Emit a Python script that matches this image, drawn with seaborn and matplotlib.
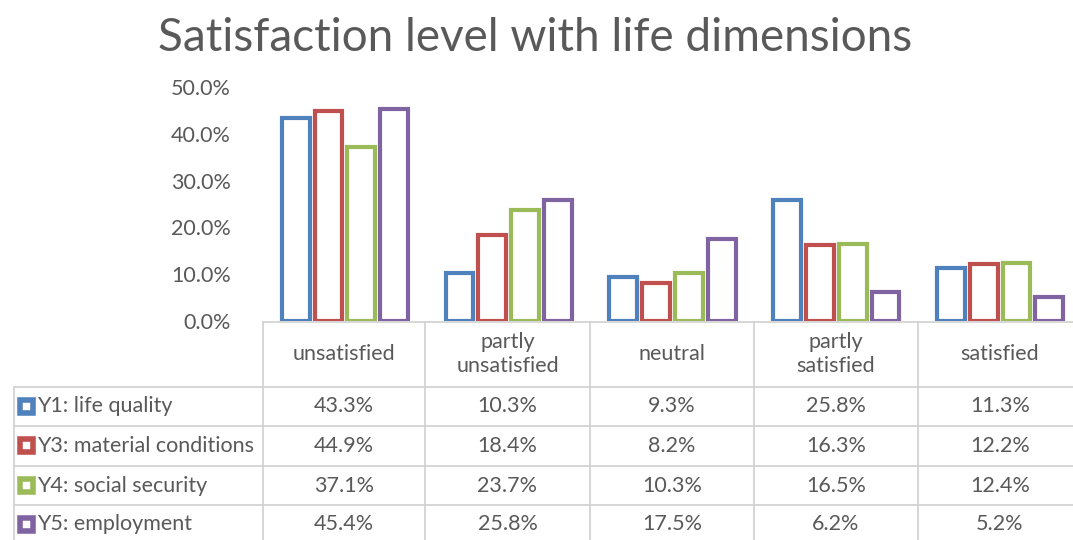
import pandas as pd
import seaborn as sns
import matplotlib.pyplot as plt
from matplotlib.lines import Line2D
from matplotlib.patches import Rectangle
from matplotlib.ticker import PercentFormatter

categories = ['unsatisfied', 'partly\nunsatisfied', 'neutral', 'partly\nsatisfied', 'satisfied']
series = ['Y1: life quality', 'Y3: material conditions', 'Y4: social security', 'Y5: employment']
life_quality = [43.3, 10.3, 9.3, 25.8, 11.3]
material_conditions = [44.9, 18.4, 8.2, 16.3, 12.2]
social_security = [37.1, 23.7, 10.3, 16.5, 12.4]
employment = [45.4, 25.8, 17.5, 6.2, 5.2]
colors = ['#4F81BD', '#C0504D', '#9BBB59', '#8064A2']

values = [life_quality, material_conditions, social_security, employment]
rows = []
for name, vals in zip(series, values):
    for cat, v in zip(categories, vals):
        rows.append({'category': cat, 'series': name, 'value': v})
df = pd.DataFrame(rows)

sns.set_style('white')
plt.rcParams['font.family'] = ['Lato', 'DejaVu Sans']
text_color = '#595959'
grid_color = '#D0D0D0'
fs = 15.5

W, H = 1073, 540
fig = plt.figure(figsize=(W / 100, H / 100), dpi=100)

# plot area in pixels: x 263..1082, y 87 (50%)..321 (0%)
ax = fig.add_axes([263 / W, 1 - 321 / H, (1082 - 263) / W, (321 - 87) / H])
sns.barplot(data=df, x='category', y='value', hue='series', palette=colors,
            fill=False, gap=0.15, linewidth=3.0, ax=ax, legend=False)
ax.set_ylim(0, 50)
ax.set_xlim(-0.5, 4.5)
ax.set_yticks([0, 10, 20, 30, 40, 50])
ax.yaxis.set_major_formatter(PercentFormatter(decimals=1))
ax.tick_params(axis='y', labelsize=fs, labelcolor=text_color, length=0, pad=23)
ax.set_xticks([])
ax.set_xlabel('')
ax.set_ylabel('')
for s in ax.spines.values():
    s.set_visible(False)

fig.text(535 / W, 1 - 38 / H, 'Satisfaction level with life dimensions',
         ha='center', va='center', fontsize=33, color=text_color)


def px(x, y):
    return x / W, 1 - y / H


def hline(x0, x1, y):
    fig.add_artist(Line2D([x0 / W, x1 / W], [1 - y / H, 1 - y / H],
                          color=grid_color, lw=1.2))


def vline(x, y0, y1):
    fig.add_artist(Line2D([x / W, x / W], [1 - y0 / H, 1 - y1 / H],
                          color=grid_color, lw=1.2))


col_edges = [263, 425, 590, 754, 918, 1082]
row_edges = [387, 426, 466, 505, 544]

hline(263, 1082, 322)
for y in row_edges:
    hline(14, 1082, y)
for x in col_edges:
    vline(x, 322, 544)
vline(14, 387, 544)

for i, cat in enumerate(categories):
    cx = (col_edges[i] + col_edges[i + 1]) / 2
    fig.text(*px(cx, 354), cat, ha='center', va='center', fontsize=fs,
             color=text_color, linespacing=1.25)

for r, (name, vals, c) in enumerate(zip(series, values, colors)):
    cy = (row_edges[r] + row_edges[r + 1]) / 2
    fig.add_artist(Rectangle(px(20, cy + 6), 13 / W, 13 / H,
                             facecolor='white', edgecolor=c, lw=4.0,
                             transform=fig.transFigure))
    fig.text(*px(37, cy), name, ha='left', va='center', fontsize=fs, color=text_color)
    for i, v in enumerate(vals):
        cx = (col_edges[i] + col_edges[i + 1]) / 2
        fig.text(*px(cx, cy), f'{v:.1f}%', ha='center', va='center',
                 fontsize=fs, color=text_color)

fig.savefig('out.png', dpi=100)
